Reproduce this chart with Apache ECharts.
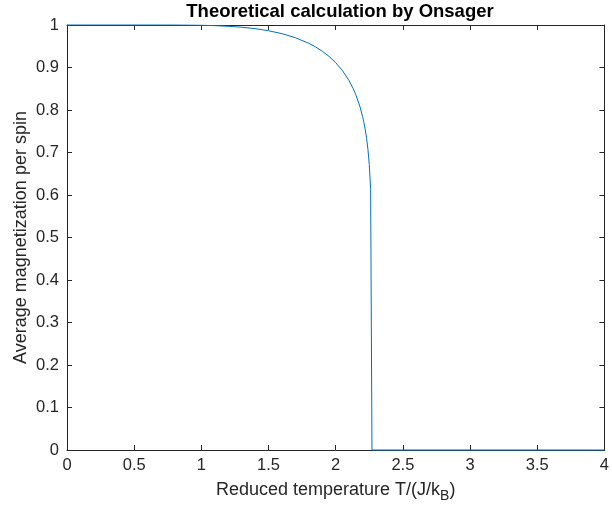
<!DOCTYPE html>
<html>
<head>
<meta charset="utf-8">
<script src="https://cdn.jsdelivr.net/npm/echarts@6/dist/echarts.min.js"></script>
<style>html,body{margin:0;padding:0;background:#fff;}#c{width:612px;height:512px;}</style>
</head>
<body>
<div id="c"></div>
<script>
// Reduced temperature samples
var temperature = [0, 0.5, 0.8, 1.0, 1.1, 1.2, 1.3, 1.4, 1.5, 1.6, 1.7, 1.8, 1.85, 1.9, 1.95, 2.0, 2.05, 2.1, 2.13, 2.15, 2.18, 2.2, 2.21, 2.22, 2.23, 2.24, 2.25, 2.26, 2.27, 4.0];
// Average magnetization per spin at those temperatures
var magnetization = [1, 1, 0.9999, 0.9993, 0.9985, 0.9970, 0.9948, 0.9914, 0.9865, 0.9796, 0.9701, 0.9569, 0.9484, 0.9383, 0.9262, 0.9113, 0.8928, 0.8688, 0.8504, 0.8357, 0.8085, 0.7848, 0.7704, 0.7535, 0.7332, 0.7073, 0.6719, 0.6134, 0, 0];
var xTicks = ['0','0.5','1','1.5','2','2.5','3','3.5','4'];
var yTicks = ['0','0.1','0.2','0.3','0.4','0.5','0.6','0.7','0.8','0.9','1'];
var titleText = 'Theoretical calculation by Onsager';
var xLabel = 'Reduced temperature T/(J/k{sub|B})';
var yLabel = 'Average magnetization per spin';

var data = temperature.map(function(t, i){ return [t, magnetization[i]]; });
var axisCol = '#262626';
var font = 'Liberation Sans, Arial, Helvetica, sans-serif';

function frameAxis(pos, min, max, interval) {
  return {
    type: 'value', min: min, max: max, interval: interval, position: pos,
    axisLine: {show: true, onZero: false, lineStyle: {color: axisCol, width: 1}},
    axisTick: {show: true, inside: true, length: 5, lineStyle: {color: axisCol}},
    axisLabel: {show: false}, splitLine: {show: false}
  };
}

var chart = echarts.init(document.getElementById('c'), null, {renderer: 'canvas'});
chart.setOption({
  animation: false,
  backgroundColor: '#fff',
  title: {
    text: titleText, left: 335, top: -3, textAlign: 'center',
    textStyle: {fontFamily: font, fontSize: 18.5, fontWeight: 'bold', color: '#000'}
  },
  grid: {left: 67, top: 25, right: 3, bottom: 62, containLabel: false},
  xAxis: [{
    type: 'value', min: 0, max: 4, interval: 0.5, position: 'bottom',
    name: xLabel, nameLocation: 'middle', nameGap: 27, nameMoveOverlap: false,
    nameTextStyle: {fontFamily: font, fontSize: 18, color: axisCol,
      rich: {sub: {fontFamily: font, fontSize: 14, color: axisCol, padding: [12, 0, 0, 0]}}},
    axisLine: {show: true, onZero: false, lineStyle: {color: axisCol, width: 1}},
    axisTick: {show: true, inside: true, length: 5, lineStyle: {color: axisCol}},
    axisLabel: {fontFamily: font, fontSize: 16.5, color: axisCol, margin: 7,
      formatter: function(v){ return xTicks[Math.round(v / 0.5)]; }},
    splitLine: {show: false}
  }, frameAxis('top', 0, 4, 0.5)],
  yAxis: [{
    type: 'value', min: 0, max: 1, interval: 0.1, position: 'left',
    name: yLabel, nameLocation: 'middle', nameGap: 37, nameRotate: 90, nameMoveOverlap: false,
    nameTextStyle: {fontFamily: font, fontSize: 18, color: axisCol},
    axisLine: {show: true, onZero: false, lineStyle: {color: axisCol, width: 1}},
    axisTick: {show: true, inside: true, length: 5, lineStyle: {color: axisCol}},
    axisLabel: {fontFamily: font, fontSize: 16.5, color: axisCol, margin: 8,
      formatter: function(v){ return yTicks[Math.round(v * 10)]; }},
    splitLine: {show: false}
  }, frameAxis('right', 0, 1, 0.1)],
  series: [{
    type: 'line', data: data, xAxisIndex: 0, yAxisIndex: 0,
    showSymbol: false, smooth: false, clip: false,
    lineStyle: {color: '#0072BD', width: 1}
  }]
});
</script>
</body>
</html>
